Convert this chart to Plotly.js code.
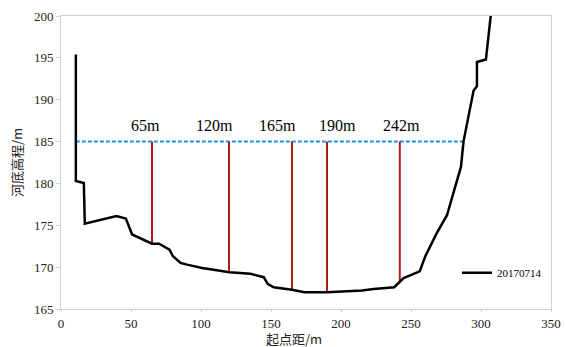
<!DOCTYPE html>
<html>
<head>
<meta charset="utf-8">
<script src="https://cdn.plot.ly/plotly-3.0.1.min.js"></script>
<style>html,body{margin:0;padding:0;background:#fff;}#chart{width:565px;height:347px;}</style>
</head>
<body>
<div id="chart"></div>
<script>
// Cross-section profile (distance from start, bed elevation)
const profileX = [10.6, 10.6, 16.3, 17.0, 39.6, 46.3, 50.8, 65.0, 70.0, 77.5, 80.0, 85.4, 90.0, 100.8, 109.0, 120.3, 135.3, 144.8, 147.6, 151.9, 165.0, 173.8, 190.0, 215.0, 223.3, 238.0, 242.3, 244.7, 256.2, 260.2, 268.5, 275.7, 285.7, 287.5, 294.7, 297.1, 297.1, 303.5, 307.0];
const profileY = [195.4, 180.3, 180.05, 175.2, 176.1, 175.8, 173.9, 172.8, 172.8, 172.1, 171.3, 170.5, 170.3, 169.9, 169.7, 169.4, 169.2, 168.8, 168.0, 167.6, 167.3, 167.0, 167.0, 167.2, 167.4, 167.6, 168.3, 168.7, 169.5, 171.3, 174.1, 176.2, 182.0, 185.0, 191.1, 191.6, 194.5, 194.8, 200.1];
const seriesName = "20170714";
// Water level line
const waterLevel = 185;
const waterX = [10.6, 287.5];
// Vertical measurement lines
const markX = [65, 120, 165, 190, 242];
const markBottom = [172.8, 169.4, 167.3, 167.0, 168.3];
// Labels of the measurement lines (placed above the water line)
const markLabels = ["65m", "120m", "165m", "190m", "242m"];
const labelX = [60.3, 109.8, 154.3, 197.4, 243.0];
const labelY = 186.9;
const xTitle = '起点距/m';
const yTitle = '河底高程/m';

const serif = 'Liberation Serif';
const cjk = 'Noto Sans CJK SC';

const traces = [];
traces.push({
  x: waterX, y: waterX.map(() => waterLevel), mode: 'lines', showlegend: false,
  line: {color: '#1e96e8', width: 2, dash: '4px,2px'}, hoverinfo: 'skip'
});
markX.forEach((mx, i) => {
  traces.push({
    x: [mx, mx], y: [waterLevel, markBottom[i]], mode: 'lines', showlegend: false,
    line: {color: '#b01c1c', width: 2}, hoverinfo: 'skip'
  });
});
traces.push({
  x: profileX, y: profileY, mode: 'lines', name: seriesName,
  line: {color: '#000000', width: 2.5}
});

const annotations = markLabels.map((t, i) => ({
  x: labelX[i], y: labelY, xref: 'x', yref: 'y', text: t, showarrow: false,
  xanchor: 'center', yanchor: 'middle',
  font: {family: serif, size: 16, color: '#000'}
}));
annotations.push({
  x: 0.476, y: -0.1, xref: 'paper', yref: 'paper', text: xTitle, showarrow: false,
  xanchor: 'center', yanchor: 'middle', borderpad: 0,
  font: {family: cjk, size: 13, color: '#222'}
});

const layout = {
  width: 565, height: 347,
  margin: {l: 60.5, r: 14, t: 16, b: 38},
  paper_bgcolor: '#fff', plot_bgcolor: '#fff',
  annotations: annotations,
  xaxis: {
    range: [0, 350], dtick: 50, tick0: 0, showgrid: false, zeroline: false,
    showline: true, linecolor: '#d0d0d0', linewidth: 1, mirror: true,
    ticks: 'outside', ticklen: 2, tickcolor: '#d0d0d0',
    tickfont: {family: serif, size: 13, color: '#222'}
  },
  yaxis: {
    range: [165, 200], dtick: 5, tick0: 165, showgrid: false, zeroline: false,
    showline: true, linecolor: '#d0d0d0', linewidth: 1, mirror: true,
    ticks: 'outside', ticklen: 4, tickcolor: '#d0d0d0',
    tickfont: {family: serif, size: 13, color: '#222'},
    title: {text: yTitle, font: {family: cjk, size: 13, color: '#222'}, standoff: 8}
  },
  showlegend: true,
  legend: {x: 0.808, y: 0.124, xanchor: 'left', yanchor: 'middle', bgcolor: 'rgba(0,0,0,0)',
    font: {family: serif, size: 11, color: '#000'}},
};
Plotly.newPlot('chart', traces, layout, {displayModeBar: false, staticPlot: true});
</script>
</body>
</html>
